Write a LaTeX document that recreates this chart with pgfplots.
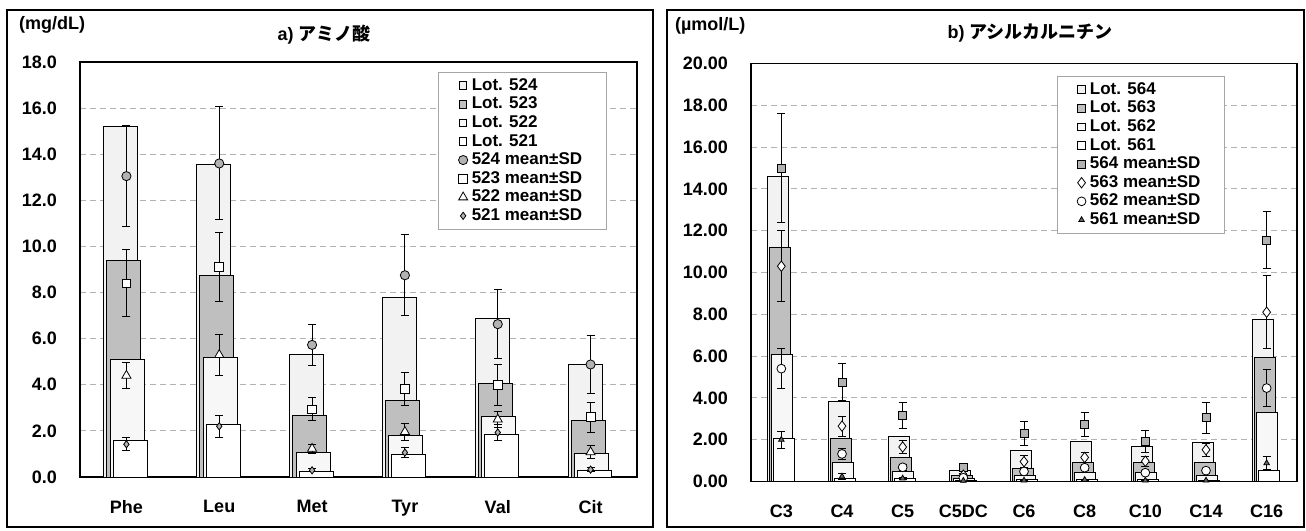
\documentclass[border=0pt]{standalone}
\usepackage{pgfplots}
\pgfplotsset{compat=1.18}
\usepackage{fontspec}
\setmainfont{Liberation Sans}
\newfontfamily\jp{Noto Sans CJK JP}

\pgfplotsset{
  panel/.style={
    scale only axis, ymin=0,
    axis line style={black, line width=0.9pt},
    major tick length=0pt,
    ymajorgrids, grid style={densely dashed, gray!60, line width=0.4pt},
    tick label style={font=\bfseries\fontsize{9}{10}\selectfont},
    /pgf/number format/assume math mode=true,
    xticklabel style={yshift=-8pt},
    legend cell align=left,
    legend style={draw=gray!70, line width=0.4pt,
      font=\bfseries\fontsize{8.5}{9.5}\selectfont,
      inner xsep=10pt, inner ysep=2pt,
      nodes={text height=6.2pt, text depth=1.6pt, inner ysep=0.75pt}},
  },
  lot/.style={ybar, draw=black, line width=0.5pt,
    legend image code/.code={\draw[##1] (0.3cm-1.9pt,-1.9pt) rectangle ++(3.8pt,3.8pt);}},
  msd/.style={only marks, mark options={draw=black, line width=0.5pt},
    error bars/y dir=both, error bars/y explicit,
    error bars/error bar style={black, line width=0.5pt},
    error bars/error mark options={rotate=90, black, mark size=2pt, line width=0.5pt}},
}

\begin{document}
\begin{tikzpicture}
\useasboundingbox (0,0) rectangle (653pt,265pt);
\draw[line width=0.6pt] (3.5pt,1.5pt) rectangle (326.5pt,260pt);
\draw[line width=0.6pt] (333.5pt,1.5pt) rectangle (652pt,260pt);
\node[anchor=west, font=\bfseries\fontsize{9}{10}\selectfont] at (6pt,252.5pt) {(mg/dL)};
\node[font=\bfseries\fontsize{9}{10}\selectfont] at (162pt,247.5pt) {a) {\jp アミノ酸}};
\node[anchor=west, font=\bfseries\fontsize{9}{10}\selectfont] at (334pt,252pt) {(µmol/L)};
\node[font=\bfseries\fontsize{9}{10}\selectfont] at (515pt,248.5pt) {b) {\jp アシルカルニチン}};

% a) amino acids
\begin{axis}[panel, at={(40pt,26.5pt)}, anchor=south west,
  width=278.5pt, height=207.5pt, ymax=18, ytick={0,2,...,18},
  yticklabel style={xshift=-8pt, /pgf/number format/.cd, fixed, fixed zerofill, precision=1},
  xmin=-0.5, xmax=5.5, xtick={0,...,5}, xticklabels={Phe,Leu,Met,Tyr,Val,Cit},
  legend style={at={(0.643,0.976)}, anchor=north west}]
\addplot[lot, fill=gray!10, bar width=17pt, bar shift=-2.75pt] coordinates {(0,15.2) (1,13.55) (2,5.33) (3,7.79) (4,6.88) (5,4.86)};
\addplot[lot, fill=gray!50, bar width=17pt, bar shift=-1.25pt] coordinates {(0,9.4) (1,8.75) (2,2.65) (3,3.3) (4,4.05) (5,2.45)};
\addplot[lot, fill=gray!6, bar width=17pt, bar shift=0.5pt] coordinates {(0,5.1) (1,5.2) (2,1.05) (3,1.78) (4,2.64) (5,1.0)};
\addplot[lot, fill=white, bar width=17pt, bar shift=2pt] coordinates {(0,1.6) (1,2.28) (2,0.25) (3,0.97) (4,1.86) (5,0.29)};
\addplot[msd, mark=*, mark size=2.3pt, mark options={fill=gray!60}] coordinates {
  (0,13.05) +- (0,2.2) (1,13.6) +- (0,2.45) (2,5.73) +- (0,0.88)
  (3,8.75) +- (0,1.75) (4,6.63) +- (0,1.5) (5,4.88) +- (0,1.24)};
\addplot[msd, mark=square*, mark size=2.2pt, mark options={fill=white}] coordinates {
  (0,8.4) +- (0,1.45) (1,9.1) +- (0,1.5) (2,2.93) +- (0,0.5)
  (3,3.83) +- (0,0.72) (4,4.0) +- (0,0.88) (5,2.6) +- (0,0.65)};
\addplot[msd, mark=triangle*, mark size=2.6pt, mark options={fill=white}] coordinates {
  (0,4.4) +- (0,0.57) (1,5.3) +- (0,0.9) (2,1.23) +- (0,0.2)
  (3,1.96) +- (0,0.36) (4,2.5) +- (0,0.35) (5,1.08) +- (0,0.27)};
\addplot[msd, mark=diamond*, mark size=1.8pt, mark options={fill=gray!60}] coordinates {
  (0,1.42) +- (0,0.29) (1,2.2) +- (0,0.48) (2,0.29) +- (0,0.06)
  (3,1.06) +- (0,0.2) (4,1.93) +- (0,0.33) (5,0.32) +- (0,0.1)};
\legend{Lot. 524, Lot. 523, Lot. 522, Lot. 521, 524 mean±SD, 523 mean±SD, 522 mean±SD, 521 mean±SD}
\end{axis}

% b) acylcarnitines
\begin{axis}[panel, at={(375.5pt,24.25pt)}, anchor=south west,
  width=273pt, height=209pt, ymax=20, ytick={0,2,...,20},
  yticklabel style={xshift=-8pt, /pgf/number format/.cd, fixed, fixed zerofill, precision=2},
  xmin=-0.5, xmax=8.5, xtick={0,...,8}, xticklabels={C3,C4,C5,C5DC,C6,C8,C10,C14,C16},
  legend style={at={(0.56,0.97)}, anchor=north west}]
\addplot[lot, fill=gray!10, bar width=10.5pt, bar shift=-1.75pt] coordinates {(0,14.6) (1,3.83) (2,2.15) (3,0.52) (4,1.47) (5,1.93) (6,1.68) (7,1.85) (8,7.74)};
\addplot[lot, fill=gray!50, bar width=10.5pt, bar shift=-0.75pt] coordinates {(0,11.2) (1,2.04) (2,1.13) (3,0.28) (4,0.62) (5,0.92) (6,0.92) (7,0.9) (8,5.95)};
\addplot[lot, fill=gray!6, bar width=10.5pt, bar shift=0.25pt] coordinates {(0,6.08) (1,0.92) (2,0.49) (3,0.12) (4,0.3) (5,0.45) (6,0.45) (7,0.3) (8,3.32)};
\addplot[lot, fill=white, bar width=10.5pt, bar shift=1.25pt] coordinates {(0,2.07) (1,0.16) (2,0.13) (3,0.04) (4,0.1) (5,0.1) (6,0.1) (7,0.06) (8,0.53)};
\addplot[msd, mark=square*, mark size=2pt, mark options={fill=gray!60}] coordinates {
  (0,15.0) +- (0,2.6) (1,4.75) +- (0,0.88) (2,3.16) +- (0,0.64)
  (3,0.68) +- (0,0.12) (4,2.3) +- (0,0.56) (5,2.72) +- (0,0.57)
  (6,1.9) +- (0,0.52) (7,3.05) +- (0,0.75) (8,11.55) +- (0,1.35)};
\addplot[msd, mark=diamond*, mark size=2.6pt, mark options={fill=white}] coordinates {
  (0,10.3) +- (0,1.7) (1,2.65) +- (0,0.48) (2,1.65) +- (0,0.32)
  (3,0.3) +- (0,0.06) (4,0.95) +- (0,0.28) (5,1.15) +- (0,0.25)
  (6,0.97) +- (0,0.25) (7,1.52) +- (0,0.32) (8,8.1) +- (0,1.75)};
\addplot[msd, mark=*, mark size=2.2pt, mark options={fill=white}] coordinates {
  (0,5.4) +- (0,0.94) (1,1.32) +- (0,0.25) (2,0.68) +- (0,0.15)
  (3,0.18) +- (0,0.04) (4,0.48) +- (0,0.1) (5,0.66) +- (0,0.12)
  (6,0.42) +- (0,0.1) (7,0.52) +- (0,0.1) (8,4.47) +- (0,0.9)};
\addplot[msd, mark=triangle*, mark size=1.6pt, mark options={fill=gray!80!black}] coordinates {
  (0,2.0) +- (0,0.4) (1,0.24) +- (0,0.15) (2,0.15) +- (0,0.05)
  (3,0.04) +- (0,0.02) (4,0.05) +- (0,0.02) (5,0.08) +- (0,0.02)
  (6,0.05) +- (0,0.02) (7,0.05) +- (0,0.02) (8,0.88) +- (0,0.3)};
\legend{Lot. 564, Lot. 563, Lot. 562, Lot. 561, 564 mean±SD, 563 mean±SD, 562 mean±SD, 561 mean±SD}
\end{axis}
\end{tikzpicture}
\end{document}
